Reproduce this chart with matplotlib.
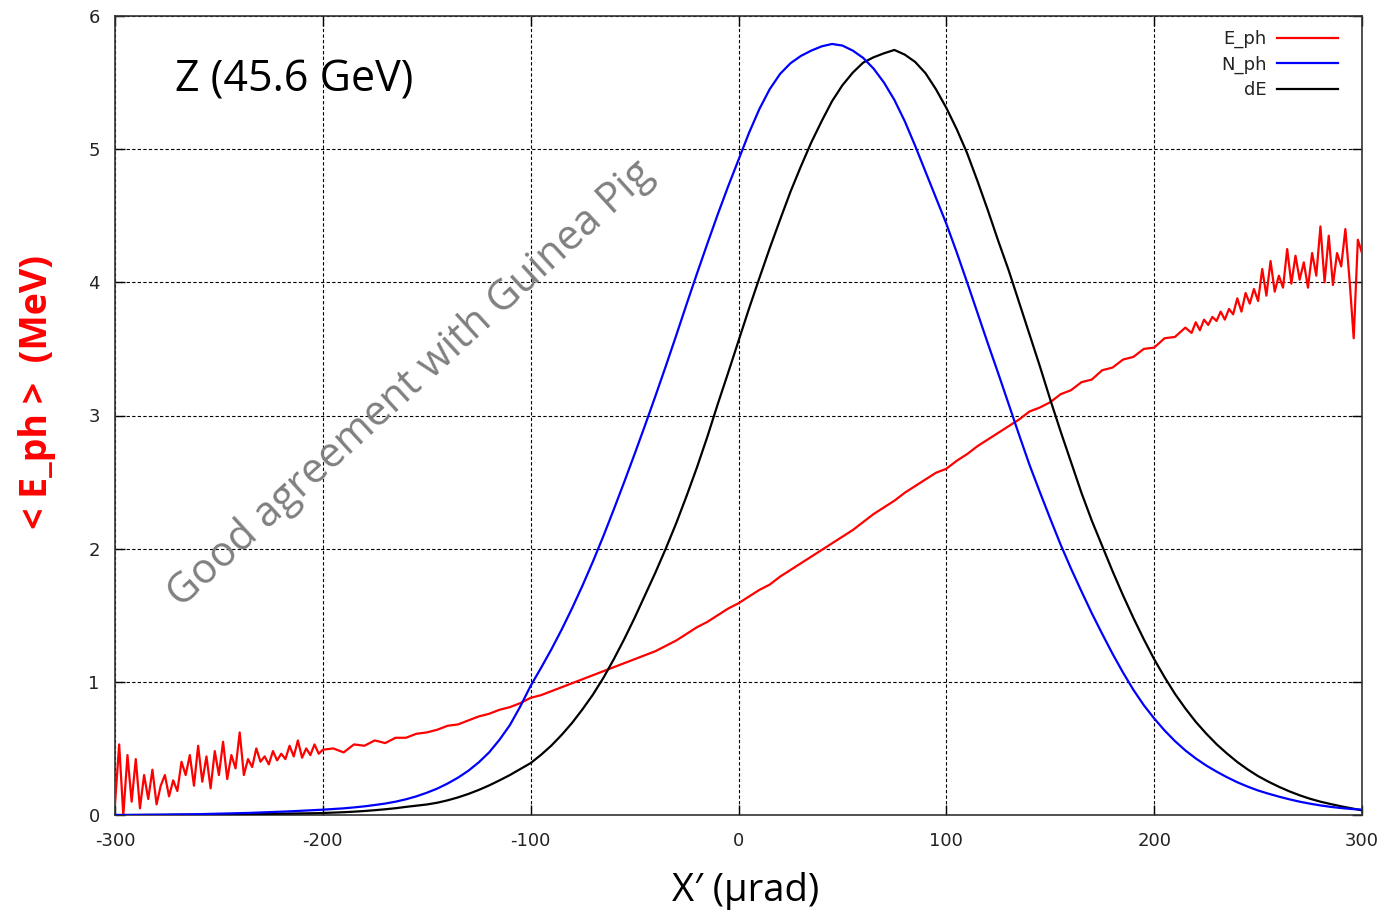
import matplotlib
matplotlib.use("Agg")
import matplotlib.pyplot as plt

# ---------------- data ----------------
# N_ph (blue) and dE (black), sampled every 5 urad from -300 to 300
x_grid = list(range(-300, 301, 5))

n_ph = [0.000, 0.000, 0.001, 0.001, 0.002, 0.003, 0.004, 0.005, 0.006, 0.008,
        0.010, 0.012, 0.014, 0.016, 0.019, 0.022, 0.025, 0.028, 0.032, 0.036,
        0.040, 0.045, 0.050, 0.057, 0.065, 0.075, 0.086, 0.100, 0.118, 0.140,
        0.167, 0.198, 0.236, 0.280, 0.332, 0.395, 0.470, 0.565, 0.675, 0.815,
        0.970, 1.105, 1.245, 1.395, 1.555, 1.725, 1.905, 2.095, 2.295, 2.500,
        2.710, 2.925, 3.145, 3.370, 3.600, 3.835, 4.065, 4.290, 4.510, 4.720,
        4.920, 5.120, 5.300, 5.450, 5.565, 5.645, 5.700, 5.740, 5.772, 5.790,
        5.778, 5.740, 5.685, 5.605, 5.500, 5.370, 5.210, 5.025, 4.830, 4.635,
        4.440, 4.225, 4.000, 3.770, 3.540, 3.315, 3.085, 2.855, 2.630, 2.425,
        2.225, 2.030, 1.850, 1.680, 1.515, 1.360, 1.210, 1.070, 0.940, 0.825,
        0.725, 0.635, 0.555, 0.485, 0.425, 0.372, 0.326, 0.284, 0.246, 0.213,
        0.184, 0.160, 0.138, 0.118, 0.100, 0.085, 0.072, 0.061, 0.052, 0.045,
        0.040]

d_e = [0.000, 0.000, 0.000, 0.001, 0.001, 0.001, 0.002, 0.002, 0.003, 0.003,
       0.004, 0.005, 0.006, 0.007, 0.008, 0.009, 0.010, 0.011, 0.012, 0.013,
       0.015, 0.018, 0.021, 0.025, 0.030, 0.036, 0.043, 0.051, 0.061, 0.070,
       0.079, 0.092, 0.110, 0.132, 0.158, 0.188, 0.222, 0.260, 0.300, 0.345,
       0.390, 0.452, 0.522, 0.603, 0.693, 0.795, 0.905, 1.030, 1.170, 1.320,
       1.480, 1.650, 1.820, 2.000, 2.190, 2.395, 2.610, 2.840, 3.085, 3.320,
       3.560, 3.800, 4.030, 4.255, 4.470, 4.680, 4.870, 5.050, 5.210, 5.360,
       5.480, 5.575, 5.650, 5.690, 5.720, 5.745, 5.710, 5.655, 5.570, 5.450,
       5.310, 5.150, 4.970, 4.760, 4.540, 4.310, 4.090, 3.850, 3.610, 3.370,
       3.120, 2.880, 2.650, 2.420, 2.210, 2.020, 1.830, 1.650, 1.480, 1.320,
       1.170, 1.035, 0.910, 0.800, 0.700, 0.612, 0.532, 0.462, 0.398, 0.342,
       0.292, 0.250, 0.212, 0.178, 0.148, 0.122, 0.100, 0.082, 0.065, 0.050,
       0.035]

# E_ph (red): finer sampling in the noisy edge regions
x_eph = (list(range(-300, -199, 2)) + list(range(-195, 216, 5))
         + list(range(218, 301, 2)))

e_ph = [0.08, 0.53, 0.00, 0.45, 0.10, 0.42, 0.05, 0.30, 0.12, 0.34,
        0.08, 0.22, 0.30, 0.14, 0.26, 0.18, 0.40, 0.30, 0.45, 0.22,
        0.52, 0.25, 0.44, 0.20, 0.48, 0.30, 0.55, 0.27, 0.45, 0.35,
        0.62, 0.30, 0.42, 0.36, 0.50, 0.40, 0.44, 0.38, 0.48, 0.41,
        0.46, 0.42, 0.52, 0.44, 0.56, 0.43, 0.50, 0.45, 0.53, 0.46,
        0.49,
        0.50, 0.47, 0.53, 0.52, 0.56, 0.54, 0.58, 0.58, 0.61, 0.62,
        0.64, 0.67, 0.68, 0.71, 0.74, 0.76, 0.79, 0.81, 0.84, 0.88,
        0.90, 0.93, 0.96, 0.99, 1.02, 1.05, 1.08, 1.11, 1.14, 1.17,
        1.20, 1.23, 1.27, 1.31, 1.36, 1.41, 1.45, 1.50, 1.55, 1.59,
        1.64, 1.69, 1.73, 1.79, 1.84, 1.89, 1.94, 1.99, 2.04, 2.09,
        2.14, 2.20, 2.26, 2.31, 2.36, 2.42, 2.47, 2.52, 2.57, 2.60,
        2.66, 2.71, 2.77, 2.82, 2.87, 2.92, 2.97, 3.03, 3.06, 3.10,
        3.16, 3.19, 3.25, 3.27, 3.34, 3.36, 3.42, 3.44, 3.50, 3.51,
        3.58, 3.59, 3.66,
        3.62, 3.70, 3.64, 3.72, 3.68, 3.74, 3.71, 3.78, 3.72, 3.80,
        3.76, 3.88, 3.78, 3.92, 3.84, 3.95, 3.86, 4.10, 3.90, 4.16,
        3.93, 4.05, 3.96, 4.25, 3.99, 4.20, 4.02, 4.15, 3.96, 4.22,
        4.05, 4.42, 4.00, 4.35, 3.98, 4.22, 4.12, 4.40, 4.02, 3.58,
        4.32, 4.22]

series_labels = ["E_ph", "N_ph", "dE"]
x_ticks = [-300, -200, -100, 0, 100, 200, 300]
y_ticks = [0, 1, 2, 3, 4, 5, 6]

# ---------------- figure ----------------
W, H = 1396, 915
fig = plt.figure(figsize=(W / 100, H / 100), dpi=100)
ax = fig.add_axes([115 / W, 1 - 815 / H, (1362 - 115) / W, (815 - 16) / H])

ax.plot(x_eph, e_ph, color="#ff0000", lw=1.6, label=series_labels[0], zorder=3)
ax.plot(x_grid, n_ph, color="#0000ff", lw=1.6, label=series_labels[1], zorder=4)
ax.plot(x_grid, d_e, color="#000000", lw=1.6, label=series_labels[2], zorder=3)

ax.set_xlim(-300, 300)
ax.set_ylim(0, 6)
ax.set_xticks(x_ticks)
ax.set_yticks(y_ticks)
ax.set_xticklabels([str(v) for v in x_ticks])
ax.set_yticklabels([str(v) for v in y_ticks])
ax.tick_params(direction="in", length=7, width=1.0, top=True, right=True,
               labelsize=13, labelcolor="#222222", pad=11)
ax.tick_params(axis="x", pad=12)

ax.grid(True, color="black", linestyle=(0, (3, 2)), linewidth=0.8, zorder=1)
for sp in ax.spines.values():
    sp.set_linewidth(1.2)
    sp.set_color("#333333")

leg = ax.legend(loc="upper right", frameon=False, markerfirst=False,
                fontsize=13, handlelength=3.4, handletextpad=0.55,
                labelspacing=0.41, borderpad=0, borderaxespad=0,
                bbox_to_anchor=(1338 / W, 1 - 30 / H),
                bbox_transform=fig.transFigure)
for t in leg.get_texts():
    t.set_ha("right")
    t.set_color("#222222")

# annotations
ax.text(0.048, 0.92, "Z (45.6 GeV)", transform=ax.transAxes, fontsize=31,
        family="Open Sans", va="center", ha="left", color="black")
fig.text(410 / W, 1 - 384 / H, "Good agreement with Guinea Pig",
         rotation=42.4, fontsize=30, family="Open Sans", color="#808080",
         ha="center", va="center")

fig.text(37 / W, 1 - 392 / H, "< E_ph >  (MeV)", rotation=90, color="#ff0000",
         fontsize=27, fontweight="bold", family="Open Sans",
         ha="center", va="center")
fig.text(746 / W, 1 - 891 / H, "X\u2032 (\u03bcrad)", fontsize=27.5,
         family="Open Sans", color="black", ha="center", va="center")

fig.savefig("out.png", dpi=100)
